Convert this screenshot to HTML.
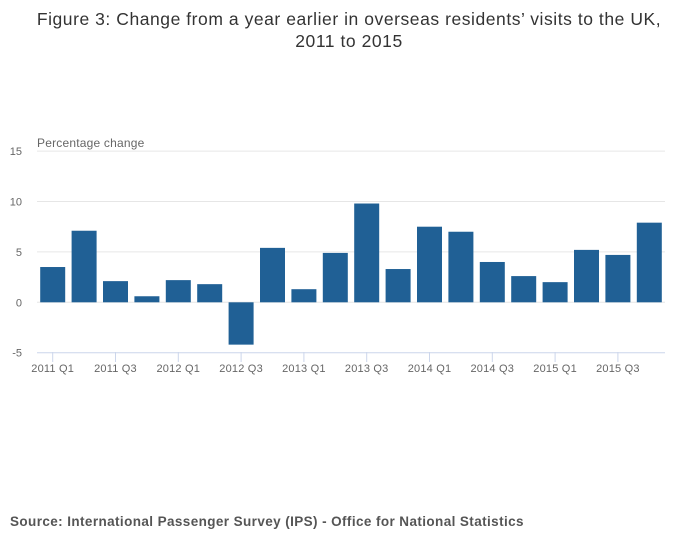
<!DOCTYPE html>
<html><head><meta charset="utf-8"><style>
body{margin:0;background:#fff;width:700px;height:549px;overflow:hidden;font-family:"Liberation Sans",sans-serif}
</style></head><body>
<svg width="700" height="549">
<text x="349" y="25" text-anchor="middle" font-size="17.5" letter-spacing="0.55" fill="#333">Figure 3: Change from a year earlier in overseas residents’ visits to the UK,</text>
<text x="349" y="47" text-anchor="middle" font-size="17.5" letter-spacing="0.55" fill="#333">2011 to 2015</text>
<text x="37" y="147" font-size="12" letter-spacing="0.2" fill="#666">Percentage change</text>
<g id="grid"></g><g id="bars"></g><g id="xaxis"></g>
<text x="10" y="526" font-size="13.5" font-weight="bold" letter-spacing="0.4" fill="#555">Source: International Passenger Survey (IPS) - Office for National Statistics</text>
</svg>
<script>
const categories=["2011 Q1","2011 Q2","2011 Q3","2011 Q4","2012 Q1","2012 Q2","2012 Q3","2012 Q4","2013 Q1","2013 Q2","2013 Q3","2013 Q4","2014 Q1","2014 Q2","2014 Q3","2014 Q4","2015 Q1","2015 Q2","2015 Q3","2015 Q4"];
const values=[3.5,7.1,2.1,0.6,2.2,1.8,-4.2,5.4,1.3,4.9,9.8,3.3,7.5,7.0,4.0,2.6,2.0,5.2,4.7,7.9];
const yTicks=[-5,0,5,10,15];
const NS="http://www.w3.org/2000/svg";
const x0=37,x1=665,band=(x1-x0)/categories.length;
const y=v=>302.3-v*10.08;
const xc=i=>x0+band*(i+0.5);
function mk(t,a,p){const e=document.createElementNS(NS,t);for(const k in a)e.setAttribute(k,a[k]);p.appendChild(e);return e;}
const grid=document.getElementById('grid'),bars=document.getElementById('bars'),xa=document.getElementById('xaxis');
yTicks.forEach(t=>{
 const l=mk('line',{x1:x0,x2:x1,y1:y(t),y2:y(t),stroke:t===-5?'#ccd6eb':'#e6e6e6','stroke-width':1},grid);
 
 
 const tx=mk('text',{x:22,y:y(t)+4,'text-anchor':'end','font-size':11,fill:'#666'},grid);
 tx.textContent=t;
 
 
});
values.forEach((v,i)=>{
 const r=mk('rect',{x:xc(i)-12.5,width:25,y:Math.min(y(v),y(0)),height:Math.abs(y(v)-y(0)),fill:'#206095'},bars);
 
 
});
categories.forEach((c,i)=>{
 if(i%2)return;
 const l=mk('line',{x1:xc(i),x2:xc(i),y1:352,y2:362,stroke:'#ccd6eb'},xa);
 
 
 const t=mk('text',{x:xc(i),y:372,'text-anchor':'middle','font-size':11,'letter-spacing':0.2,fill:'#666'},xa);
 t.textContent=c;
 
 
});
</script>
</body></html>
